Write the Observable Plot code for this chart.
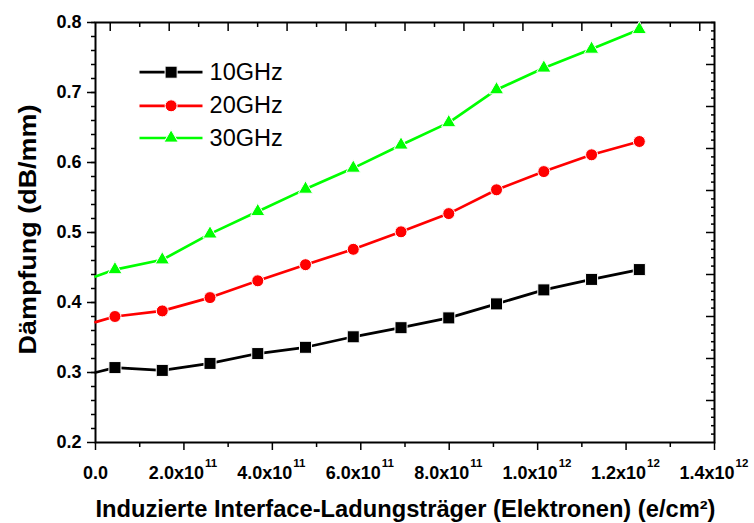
<!DOCTYPE html>
<html>
<head>
<meta charset="utf-8">
<script src="https://cdn.jsdelivr.net/npm/d3@7"></script>
<script src="https://cdn.jsdelivr.net/npm/@observablehq/plot@0.6"></script>
<style>
  html, body { margin: 0; padding: 0; background: #fff; }
</style>
</head>
<body>
<div id="chart"></div>
<script>
// Induced interface charge density (e/cm²) at each measurement
const chargeDensity = [0, 0.44e11, 1.51e11, 2.59e11, 3.67e11, 4.75e11, 5.83e11, 6.91e11, 7.99e11, 9.07e11, 10.14e11, 11.22e11, 12.30e11];

// Attenuation (dB/mm) per frequency
const att10GHz = [0.300, 0.307, 0.303, 0.313, 0.327, 0.336, 0.351, 0.364, 0.378, 0.398, 0.418, 0.433, 0.447];
const att20GHz = [0.372, 0.380, 0.388, 0.407, 0.431, 0.454, 0.476, 0.501, 0.527, 0.561, 0.587, 0.611, 0.630];
const att30GHz = [0.437, 0.447, 0.461, 0.498, 0.530, 0.562, 0.592, 0.625, 0.657, 0.704, 0.735, 0.762, 0.790];

const seriesNames = ["10GHz", "20GHz", "30GHz"];
const seriesValues = [att10GHz, att20GHz, att30GHz];

// Axis ticks and labels
const xMajorTicks = [0, 2e11, 4e11, 6e11, 8e11, 10e11, 12e11, 14e11];
const xTickBase = ["0.0", "2.0x10", "4.0x10", "6.0x10", "8.0x10", "1.0x10", "1.2x10", "1.4x10"];
const xTickExp = ["", "11", "11", "11", "11", "12", "12", "12"];
const xMinorTicks = [1e11, 3e11, 5e11, 7e11, 9e11, 11e11, 13e11];
const topMajorTicks = [0.333e11, 1.667e11, 3.0e11, 4.333e11, 5.667e11, 7.0e11, 8.333e11, 9.667e11, 11.0e11, 12.333e11, 13.667e11];
const topMinorTicks = [1.0e11, 2.333e11, 3.667e11, 5.0e11, 6.333e11, 7.667e11, 9.0e11, 10.333e11, 11.667e11, 13.0e11];
const yMajorTicks = [0.2, 0.3, 0.4, 0.5, 0.6, 0.7, 0.8];
const yMinorTicks = d3.range(0.22, 0.8, 0.02).map(v => +v.toFixed(2));
const rightMajorTicks = [0.26, 0.32, 0.38, 0.44, 0.50, 0.56, 0.62, 0.68, 0.74];
const rightMinorTicks = d3.range(0.212, 0.8, 0.012).map(v => +v.toFixed(3)).filter(v => !rightMajorTicks.some(m => Math.abs(m - v) < 1e-6));

const xTitle = "Induzierte Interface-Ladungsträger (Elektronen) (e/cm²)";
const yTitle = "Dämpfung (dB/mm)";

// Styling per series
const seriesColors = ["#000000", "#ff0000", "#00ff00"];
const seriesSymbols = ["square", "circle", "triangle"];
const seriesRadius = [6.8, 6.0, 5.3];
const lineWidth = 2.7;

// Legend layout (data units)
const legendLineX = [0.995e11, 2.42e11];
const legendMarkX = 1.71e11;
const legendTextX = 2.58e11;
const legendRowY = [0.729, 0.681, 0.635];

const rows = seriesNames.flatMap((name, i) =>
  chargeDensity.map((x, j) => ({series: name, x, value: seriesValues[i][j]}))
);

const xTickData = xMajorTicks.map((v, i) => ({v, base: xTickBase[i], exp: xTickExp[i]}));

const marks = [
  // bottom axis ticks (outward)
  Plot.axisX({anchor: "bottom", ticks: xMinorTicks, tickSize: 5, tickFormat: () => "", label: null, strokeWidth: 1.5}),
  Plot.axisX({anchor: "bottom", ticks: xMajorTicks, tickSize: 8, tickFormat: () => "", label: null, strokeWidth: 1.5}),
  // top axis ticks (inward)
  Plot.axisX({anchor: "top", ticks: topMinorTicks, tickSize: -4, tickFormat: () => "", label: null, strokeWidth: 1.5}),
  Plot.axisX({anchor: "top", ticks: topMajorTicks, tickSize: -8, tickFormat: () => "", label: null, strokeWidth: 1.5}),
  // left axis ticks (outward) with labels
  Plot.axisY({anchor: "left", ticks: yMinorTicks, tickSize: 4, tickFormat: () => "", label: null, strokeWidth: 1.5}),
  Plot.axisY({anchor: "left", ticks: yMajorTicks, tickSize: 8, tickPadding: 6, tickFormat: d => d.toFixed(1), label: null,
    strokeWidth: 1.5, fontSize: 18, fontWeight: "bold"}),
  // right axis ticks (inward)
  Plot.axisY({anchor: "right", ticks: rightMinorTicks, tickSize: -4, tickFormat: () => "", label: null, strokeWidth: 1.5}),
  Plot.axisY({anchor: "right", ticks: rightMajorTicks, tickSize: -9, tickFormat: () => "", label: null, strokeWidth: 1.5}),
  Plot.frame({stroke: "black", strokeWidth: 2}),

  // bottom tick labels: mantissa and raised exponent
  Plot.text(xTickData.filter(d => d.exp === ""), {x: "v", frameAnchor: "bottom", text: "base", lineAnchor: "top", dy: 24,
    textAnchor: "middle", fontSize: 18, fontWeight: "bold"}),
  Plot.text(xTickData.filter(d => d.exp !== ""), {x: "v", frameAnchor: "bottom", text: "base", lineAnchor: "top", dy: 24,
    dx: 20, textAnchor: "end", fontSize: 18, fontWeight: "bold"}),
  Plot.text(xTickData.filter(d => d.exp !== ""), {x: "v", frameAnchor: "bottom", text: "exp", lineAnchor: "top", dy: 16.5,
    dx: 21, textAnchor: "start", fontSize: 11.5, fontWeight: "bold"}),

  // axis titles (anchored at their start, then stretched to full span)
  Plot.text([xTitle], {frameAnchor: "bottom-left", dx: 0, dy: 74, text: d => d, textAnchor: "start", fontSize: 23, fontWeight: "bold"}),
  Plot.text([yTitle], {frameAnchor: "left", dx: -67, dy: 122, rotate: -90, text: d => d, textAnchor: "start", fontSize: 23, fontWeight: "bold"}),

  // data lines
  Plot.line(rows, {x: "x", y: "value", z: "series", stroke: "series", strokeWidth: lineWidth})
];

// data markers (the axis-intercept point carries no symbol)
seriesNames.forEach((name, i) => {
  marks.push(Plot.dot(rows.filter(d => d.series === name && d.x > 0), {
    x: "x", y: "value", symbol: seriesSymbols[i], r: seriesRadius[i],
    fill: seriesColors[i], stroke: "white", strokeWidth: 1
  }));
});

// legend
seriesNames.forEach((name, i) => {
  marks.push(
    Plot.link([name], {x1: legendLineX[0], x2: legendLineX[1], y1: legendRowY[i], y2: legendRowY[i],
      stroke: seriesColors[i], strokeWidth: lineWidth}),
    Plot.dot([name], {x: legendMarkX, y: legendRowY[i], symbol: seriesSymbols[i], r: seriesRadius[i],
      fill: seriesColors[i], stroke: "white", strokeWidth: 1}),
    Plot.text([name], {x: legendTextX, y: legendRowY[i], text: d => d, textAnchor: "start", fontSize: 23.5})
  );
});

const chart = Plot.plot({
  width: 754,
  height: 523,
  marginLeft: 95,
  marginRight: 40,
  marginTop: 22,
  marginBottom: 81,
  style: {fontFamily: "'Liberation Sans', Arial, sans-serif", background: "#fff", color: "#000", overflow: "visible"},
  x: {domain: [0, 1.4e12]},
  y: {domain: [0.2, 0.8]},
  color: {domain: seriesNames, range: seriesColors},
  marks
});

// stretch the axis titles to their full span
d3.select(chart).selectAll("text")
  .filter(function () { return this.textContent === yTitle; })
  .attr("textLength", 250).attr("lengthAdjust", "spacingAndGlyphs");
d3.select(chart).selectAll("text")
  .filter(function () { return this.textContent === xTitle; })
  .attr("textLength", 620).attr("lengthAdjust", "spacingAndGlyphs");

document.getElementById("chart").appendChild(chart);
</script>
</body>
</html>
